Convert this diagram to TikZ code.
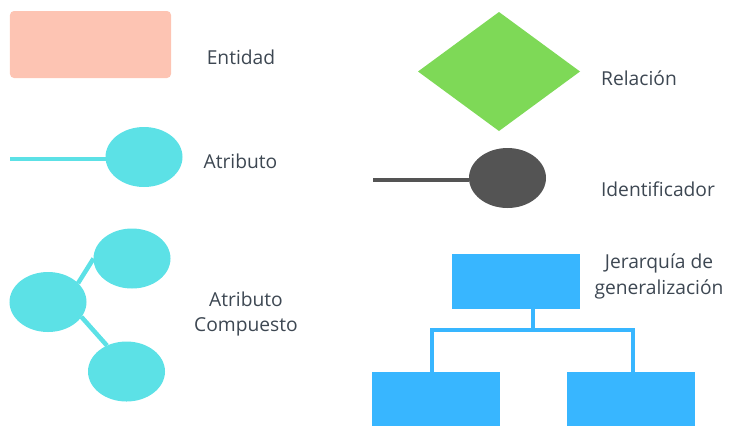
\documentclass[tikz,border=0pt]{standalone}
\usepackage{fontspec}
\setmainfont{Open Sans}
\usetikzlibrary{shapes.geometric}
\usetikzlibrary{backgrounds}
\definecolor{entityfill}{HTML}{FDC4B3}
\definecolor{relfill}{HTML}{7ED957}
\definecolor{attrfill}{HTML}{5CE1E6}
\definecolor{keyfill}{HTML}{545454}
\definecolor{genfill}{HTML}{38B6FF}
\definecolor{labeltext}{HTML}{3D4752}

\begin{document}
\begin{tikzpicture}
[x=1bp,y=-1bp,%
  every node/.style={inner sep=0pt,outer sep=0pt},%
  entity/.style={shape=rectangle,fill=entityfill,rounded corners=4bp,minimum width=161bp,minimum height=67bp},%
  relation/.style={shape=diamond,fill=relfill,aspect=1.36,minimum width=162bp,minimum height=119bp},%
  attrib/.style={shape=ellipse,fill=attrfill,minimum width=77bp,minimum height=60bp},%
  keyattr/.style={shape=ellipse,fill=keyfill,minimum width=77bp,minimum height=60bp},%
  genbox/.style={shape=rectangle,fill=genfill,minimum width=128bp,minimum height=55bp},%
  legend/.style={text=labeltext,font=\fontsize{19.3}{26}\selectfont,align=center}]
\useasboundingbox (0,0) rectangle (729,425);
%% left column
\node[entity] (ent) at (90.5,44.5) {};
\node[legend] (entLabel) at (241,57) {Entidad};
%%
\coordinate (attrStart) at (10,159);
\node[attrib] (attr) at (144,157) {};
\node[legend] (attrLabel) at (240.5,161) {Atributo};
\draw[attrfill,line width=4bp] (attrStart) -- (attrStart -| attr.west);
%%
\node[attrib] (comp) at (48,302) {};
\node[attrib] (compA) at (132,258.5) {};
\node[attrib] (compB) at (126.5,371.5) {};
\node[legend] (compLabel) at (246,314) {Atributo\\Compuesto};
\begin{scope}[on background layer]
\path
\foreach \startNode/\endNode in {comp.32/compA.west, comp.-24/compB.127}
{
  (\startNode) edge[attrfill,line width=4.5bp] (\endNode)
};
\end{scope}
%% right column
\node[relation] (rel) at (499,71.5) {};
\node[legend] (relLabel) at (639,78) {Relación};
%%
\coordinate (keyStart) at (373,180);
\node[keyattr] (key) at (507.5,178) {};
\node[legend] (keyLabel) at (658,189) {Identificador};
\draw[keyfill,line width=4bp] (keyStart) -- (keyStart -| key.west);
%%
\node[genbox] (gen) at (516,281.5) {};
\node[genbox,minimum height=60bp] (specA) at (435.5,402) {};
\node[genbox,minimum height=60bp] (specB) at (630.5,402) {};
\node[legend] (genLabel) at (659,276) {Jerarquía de\\generalización};
\coordinate (join) at (533,330);
\draw[genfill,line width=4bp] (gen.south -| join) -- (join);
\draw[genfill,line width=4bp] ([xshift=-3.5bp]specA.north) |- ([xshift=2.5bp]specB.north |- join) -- ([xshift=2.5bp]specB.north);
\end{tikzpicture}
\end{document}
